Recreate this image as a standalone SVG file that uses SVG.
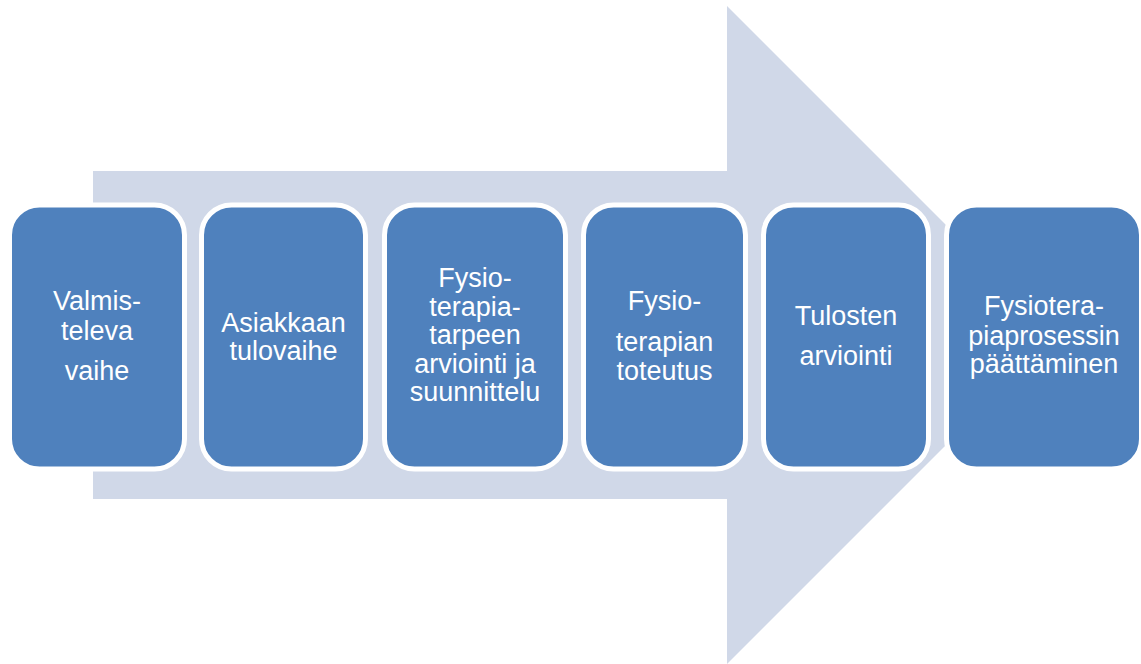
<svg xmlns="http://www.w3.org/2000/svg" width="1141" height="664" viewBox="0 0 1141 664">
<style>
.box{fill:#4F81BD;stroke:#FFFFFF;stroke-width:5}
.t{fill:#FFFFFF;font-family:"Liberation Sans",Arial,sans-serif;font-size:27px;text-anchor:middle}
</style>
<rect width="1141" height="664" fill="#FFFFFF"/>
<g id="arrow">
<polygon points="93,171 727,171 727,6 1056,335 727,664 727,499 93,499" fill="#D0D8E8"/>
</g>
<g id="connectors"></g>
<g id="node1">
<rect class="box" x="9.5" y="205" width="175" height="264" rx="30"/>
<text class="t" x="97" y="310">Valmis-</text>
<text class="t" x="97" y="340">televa</text>
<text class="t" x="97" y="380">vaihe</text>
</g>
<g id="node2">
<rect class="box" x="201.5" y="205" width="164" height="264" rx="30"/>
<text class="t" x="283.5" y="332">Asiakkaan</text>
<text class="t" x="283.5" y="360">tulovaihe</text>
</g>
<g id="node3">
<rect class="box" x="384.5" y="205" width="181" height="264" rx="30"/>
<text class="t" x="475" y="287">Fysio-</text>
<text class="t" x="475" y="315.5">terapia-</text>
<text class="t" x="475" y="344">tarpeen</text>
<text class="t" x="475" y="372.5">arviointi ja</text>
<text class="t" x="475" y="401">suunnittelu</text>
</g>
<g id="node4">
<rect class="box" x="583.5" y="205" width="162" height="264" rx="30"/>
<text class="t" x="664.5" y="310">Fysio-</text>
<text class="t" x="664.5" y="351">terapian</text>
<text class="t" x="664.5" y="380">toteutus</text>
</g>
<g id="node5">
<rect class="box" x="763.5" y="205" width="165" height="264" rx="30"/>
<text class="t" x="846" y="325">Tulosten</text>
<text class="t" x="846" y="365">arviointi</text>
</g>
<g id="node6">
<rect class="box" x="946.5" y="205" width="195" height="264" rx="30"/>
<text class="t" x="1044" y="315">Fysiotera-</text>
<text class="t" x="1044" y="345">piaprosessin</text>
<text class="t" x="1044" y="373">päättäminen</text>
</g>
</svg>
